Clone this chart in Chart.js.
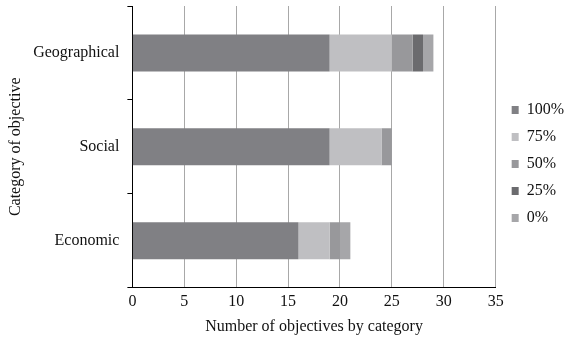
<!DOCTYPE html>
<html>
<head>
<meta charset="utf-8">
<script src="https://cdn.jsdelivr.net/npm/chart.js@4/dist/chart.umd.min.js"></script>
<style>
  html, body { margin: 0; padding: 0; background: #fff; }
  #wrap { width: 569px; height: 337px; }
</style>
</head>
<body>
<div id="wrap"><canvas id="objChart"></canvas></div>
<script>
// categories (top to bottom)
const categories = ["Geographical", "Social", "Economic"];

// objectives per category, split by level of achievement
const level100 = [19, 19, 16];
const level75 = [6, 5, 3];
const level50 = [2, 1, 1];
const level25 = [1, 0, 0];
const level0 = [1, 0, 1];

const seriesLabels = ["100%", "75%", "50%", "25%", "0%"];
const seriesColors = ["#808084", "#bfbfc2", "#98989b", "#6b6b6e", "#a6a6a9"];
const xTicks = [0, 5, 10, 15, 20, 25, 30, 35];

const serif = "Liberation Serif, Times New Roman, Tinos, serif";
const fontSize = 16;

const allSeries = [level100, level75, level50, level25, level0];

// nudge the legend from where the layout puts it
const legendShift = {
  id: "legendShift",
  afterLayout(chart) {
    const lg = chart.legend;
    lg.left += 5;
    lg.right += 5;
    lg.top -= 7;
    lg.bottom -= 7;
  }
};

function drawChart() {
  Chart.defaults.font.family = serif;
  Chart.defaults.color = "#111";

  new Chart(document.getElementById("objChart"), {
    type: "bar",
    data: {
      labels: categories,
      datasets: allSeries.map((vals, i) => ({
        label: seriesLabels[i],
        data: vals,
        backgroundColor: seriesColors[i],
        borderWidth: 0,
        categoryPercentage: 1,
        barPercentage: 0.395
      }))
    },
    plugins: [legendShift],
    options: {
      indexAxis: "y",
      responsive: true,
      maintainAspectRatio: false,
      animation: false,
      layout: {
        padding: { top: 6, right: 0, bottom: 1, left: 1 }
      },
      plugins: {
        tooltip: { enabled: false },
        legend: {
          position: "right",
          labels: {
            boxWidth: 7,
            boxHeight: 8,
            padding: 11,
            color: "#111",
            font: { family: serif, size: fontSize }
          }
        }
      },
      scales: {
        x: {
          stacked: true,
          min: 0,
          max: 35,
          afterBuildTicks: axis => {
            axis.ticks = xTicks.map(v => ({ value: v }));
          },
          grid: {
            color: "#a8a8a8",
            lineWidth: 1,
            drawTicks: false
          },
          border: { color: "#000", width: 1 },
          ticks: {
            padding: 5,
            color: "#111",
            font: { family: serif, size: fontSize }
          },
          title: {
            display: true,
            text: "Number of objectives by category",
            color: "#111",
            font: { family: serif, size: fontSize },
            padding: { top: 0, bottom: 0 }
          }
        },
        y: {
          stacked: true,
          afterFit: s => {
            // category labels sit inside their bands, no extra room needed
            s.paddingTop = 0;
            s.paddingBottom = 0;
          },
          grid: {
            offset: true,
            drawOnChartArea: false,
            drawTicks: true,
            tickLength: 5,
            color: "#000"
          },
          border: { color: "#000", width: 1 },
          ticks: {
            padding: 8,
            color: "#111",
            font: { family: serif, size: fontSize }
          },
          title: {
            display: true,
            text: "Category of objective",
            color: "#111",
            font: { family: serif, size: fontSize },
            padding: { top: 5, bottom: 0 }
          }
        }
      }
    }
  });
}

// make sure the local serif face is ready before the canvas text is drawn
document.fonts.load("16px 'Liberation Serif'").then(drawChart, drawChart);
</script>
</body>
</html>
